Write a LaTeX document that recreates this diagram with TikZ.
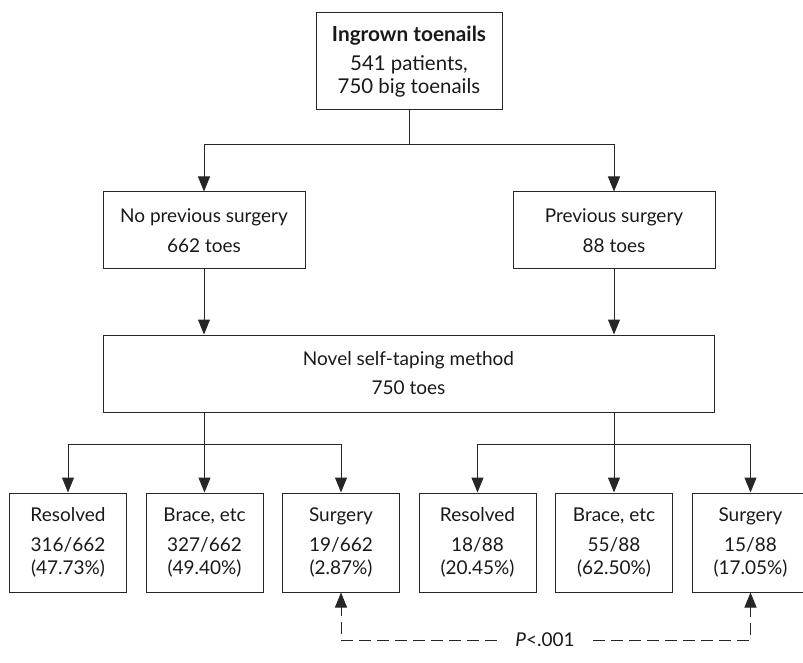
\documentclass[tikz,border=0pt]{standalone}
\usepackage{fontspec}
\setmainfont{Lato}
\usetikzlibrary{arrows.meta}

\begin{document}
\begin{tikzpicture}[x=0.5pt,y=-0.5pt,
		box/.style={draw=black!85,line width=0.5pt,align=center,inner sep=0pt,text=black!90,font=\fontsize{9.5}{11.5}\selectfont},
		outcome/.style={box,minimum width=58.5pt,minimum height=49.5pt},
		group/.style={box,minimum width=101pt,minimum height=38.5pt},
		arr/.style={draw=black!85,line width=0.5pt,-{Triangle[length=7.5pt,width=6pt]}}]
		
		\useasboundingbox (0,0) rectangle (803,663);
		
		% Top box
		\node[box, minimum width=93pt, minimum height=48.5pt] (toe) at (409,61.5)
		{{\fontsize{10.4}{11.5}\selectfont\textbf{Ingrown toenails}}\\[3pt]{\fontsize{10.2}{10}\selectfont 541 patients,}\\{\fontsize{10.2}{10}\selectfont 750 big toenails}};
		
		% Groups
		\node[group] (nops) at (204,230.5) {No previous surgery\\[3.5pt]662 toes};
		\node[group] (prev) at (614,230.5) {Previous surgery\\[3.5pt]88 toes};
		
		% Method
		\node[box, minimum width=305.5pt, minimum height=38.5pt] (novel) at (408.5,373.5) {Novel self-taping method\\[3pt]750 toes};
		
		% Outcomes, no previous surgery
		\node[outcome] (resL) at (68,542.5) {Resolved\\[3.5pt]316/662\\(47.73\%)};
		\node[outcome] (braL) at (204.5,542.5) {Brace, etc\\[3.5pt]327/662\\(49.40\%)};
		\node[outcome] (surL) at (341,542.5) {Surgery\\[3.5pt]19/662\\(2.87\%)};
		
		% Outcomes, previous surgery
		\node[outcome] (resR) at (477.5,542.5) {Resolved\\[3.5pt]18/88\\(20.45\%)};
		\node[outcome] (braR) at (614,542.5) {Brace, etc\\[3.5pt]55/88\\(62.50\%)};
		\node[outcome] (surR) at (750.5,542.5) {Surgery\\[3.5pt]15/88\\(17.05\%)};
		
		% P value
		\node[text=black!90, font=\fontsize{9.5}{11}\selectfont, inner xsep=9pt] (pval) at (545,640) {\textit{P}<.001};
		
		% Split points
		\coordinate (splitT) at (409,145);
		\coordinate (splitL) at (204.5,444);
		\coordinate (splitR) at (614,444);
		
		% Connectors
		\draw[arr, -] (toe.south) -- (splitT);
		\draw[arr] (splitT) -| (nops);
		\draw[arr] (splitT) -| (prev);
		\draw[arr] (nops.south) -- (nops.south |- novel.north);
		\draw[arr] (prev.south) -- (prev.south |- novel.north);
		
		\draw[arr] (novel.south -| braL) -- (braL);
		\draw[arr] (splitL) -| (resL);
		\draw[arr] (splitL) -| (surL);
		\draw[arr] (novel.south -| braR) -- (braR);
		\draw[arr] (splitR) -| (resR);
		\draw[arr] (splitR) -| (surR);
		
		\draw[arr, dash pattern=on 6pt off 3pt] (pval.west) -| (surL.south);
		\draw[arr, dash pattern=on 6pt off 3pt] (pval.east) -| (surR.south);
	\end{tikzpicture}
\end{document}
